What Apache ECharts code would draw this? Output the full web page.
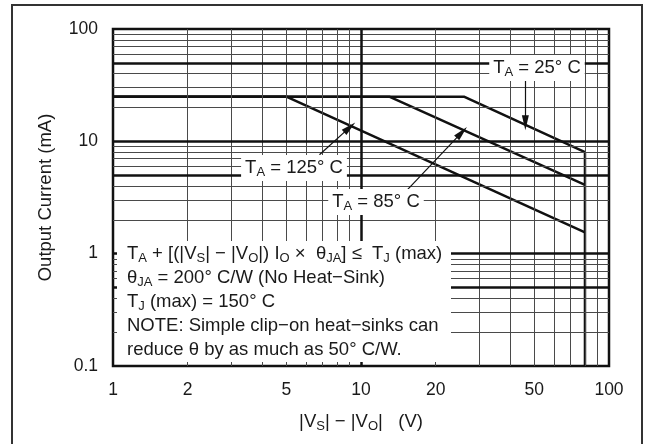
<!DOCTYPE html>
<html>
<head>
<meta charset="utf-8">
<script src="https://cdn.jsdelivr.net/npm/echarts@6.0.0/dist/echarts.min.js"></script>
<style>
  html, body { margin: 0; padding: 0; background: #fff; }
  #chart { width: 645px; height: 444px; }
</style>
</head>
<body>
<div id="chart"></div>
<script>
// curves: [|Vs|-|Vo| (V), output current (mA)]
const ta25 = [[1, 25], [26, 25], [80, 8], [80, 0.1]];
const ta85 = [[1, 25], [13, 25], [80, 4.1]];
const ta125 = [[1, 25], [5, 25], [80, 1.55]];

// leader arrows, tail -> tip
const arrow25 = [[46, 35], [46, 14.6]];
const arrow85 = [[15.2, 3.6], [25.5, 12]];
const arrow125 = [[6.8, 7.6], [9, 13.3]];

const xTickLabels = [1, 2, 5, 10, 20, 50, 100];
const yTickLabels = [0.1, 1, 10, 100];

const xGridThin = [2, 3, 4, 5, 6, 7, 8, 9, 20, 30, 40, 50, 60, 70, 80, 90];
const xGridThick = [10];
const yGridThin = [0.2, 0.3, 0.4, 0.6, 0.7, 0.8, 0.9, 2, 3, 4, 6, 7, 8, 9, 20, 30, 40, 60, 70, 80, 90];
const yGridThick = [0.5, 1, 5, 10, 50];

const FONT = 'Liberation Sans, Arial, sans-serif';
const INK = '#1a1a1a';
const TEXT_SIZE = 18.5;

const chart = echarts.init(document.getElementById('chart'));

const sub = { fontSize: 13, fontFamily: FONT, fill: INK, color: INK, padding: [9, 0, 0, 0] };

const thin = { color: '#4a4a4a', width: 1, type: 'solid' };
const thick = { color: '#111', width: 2.5, type: 'solid' };

const gridMarks = []
  .concat(xGridThin.map(v => ({ xAxis: v, lineStyle: thin })))
  .concat(yGridThin.map(v => ({ yAxis: v, lineStyle: thin })))
  .concat(xGridThick.map(v => ({ xAxis: v, lineStyle: thick })))
  .concat(yGridThick.map(v => ({ yAxis: v, lineStyle: thick })));

const toArrow = a => [{ coord: a[0] }, { coord: a[1] }];

const curve = (name, data) => ({
  name: name,
  type: 'line',
  data: data,
  symbol: 'none',
  z: 3,
  lineStyle: { color: '#111', width: 2.5 },
  animation: false
});

function label(text, x, y) {
  return {
    type: 'text',
    z: 100,
    x: x,
    y: y,
    style: {
      text: text,
      font: TEXT_SIZE + 'px ' + FONT,
      fill: INK,
      align: 'center',
      verticalAlign: 'middle',
      backgroundColor: '#fff',
      padding: [2, 4, 2, 4],
      rich: { s: sub }
    }
  };
}

function noteLine(text, y) {
  return {
    type: 'text',
    z: 101,
    x: 127,
    y: y,
    style: {
      text: text,
      font: TEXT_SIZE + 'px ' + FONT,
      fill: INK,
      align: 'left',
      verticalAlign: 'middle',
      rich: { s: sub }
    }
  };
}

chart.setOption({
  animation: false,
  grid: {
    left: 113, right: 36, top: 29, bottom: 78,
    show: true, borderColor: '#111', borderWidth: 2.5, backgroundColor: 'transparent'
  },
  xAxis: {
    type: 'log',
    logBase: 10,
    min: 1,
    max: 100,
    name: '|V{s|S}| − |V{s|O}|   (V)',
    nameLocation: 'middle',
    nameGap: 45,
    nameTextStyle: {
      fontFamily: FONT, fontSize: TEXT_SIZE, color: INK,
      rich: { s: { fontSize: 13, fontFamily: FONT, color: INK, padding: [9, 0, 0, 0] } }
    },
    axisLine: { show: false },
    axisTick: { show: false },
    splitLine: { show: false },
    minorTick: { show: false },
    axisLabel: {
      customValues: xTickLabels,
      margin: 15,
      fontFamily: FONT, fontSize: 17.5, color: INK
    }
  },
  yAxis: {
    type: 'log',
    logBase: 10,
    min: 0.1,
    max: 100,
    name: 'Output Current (mA)',
    nameLocation: 'middle',
    nameGap: 58,
    nameTextStyle: { fontFamily: FONT, fontSize: TEXT_SIZE, color: INK },
    axisLine: { show: false },
    axisTick: { show: false },
    splitLine: { show: false },
    axisLabel: {
      customValues: yTickLabels,
      margin: 15,
      fontFamily: FONT, fontSize: 17.5, color: INK,
      formatter: v => String(v)
    }
  },
  series: [
    {
      name: 'grid',
      type: 'line',
      data: [],
      z: 1,
      silent: true,
      markLine: {
        silent: true,
        symbol: 'none',
        label: { show: false },
        animation: false,
        data: gridMarks
      }
    },
    curve('TA = 25°C', ta25),
    curve('TA = 85°C', ta85),
    curve('TA = 125°C', ta125),
    {
      name: 'arrows',
      type: 'line',
      data: [],
      z: 4,
      silent: true,
      markLine: {
        silent: true,
        symbol: ['none', 'triangle'],
        symbolSize: [7, 15],
        label: { show: false },
        animation: false,
        lineStyle: { color: '#111', width: 1.2, type: 'solid' },
        data: [toArrow(arrow25), toArrow(arrow85), toArrow(arrow125)]
      }
    }
  ],
  graphic: [
    {
      type: 'rect',
      z: 50,
      shape: { x: 12, y: 5, width: 630, height: 470 },
      style: { fill: 'none', stroke: '#333', lineWidth: 2 }
    },
    {
      type: 'rect',
      z: 99,
      shape: { x: 117, y: 241, width: 334, height: 121 },
      style: { fill: '#fff' }
    },
    label('T{s|A} = 25° C', 537, 68),
    label('T{s|A} = 125° C', 294, 168),
    label('T{s|A} = 85° C', 376, 202),
    noteLine('T{s|A} + [(|V{s|S}| − |V{s|O}|) I{s|O} ×  θ{s|JA}] ≤  T{s|J} (max)', 254),
    noteLine('θ{s|JA} = 200° C/W (No Heat−Sink)', 278),
    noteLine('T{s|J} (max) = 150° C', 302),
    noteLine('NOTE: Simple clip−on heat−sinks can', 326),
    noteLine('reduce θ by as much as 50° C/W.', 350)
  ]
});
</script>
</body>
</html>
